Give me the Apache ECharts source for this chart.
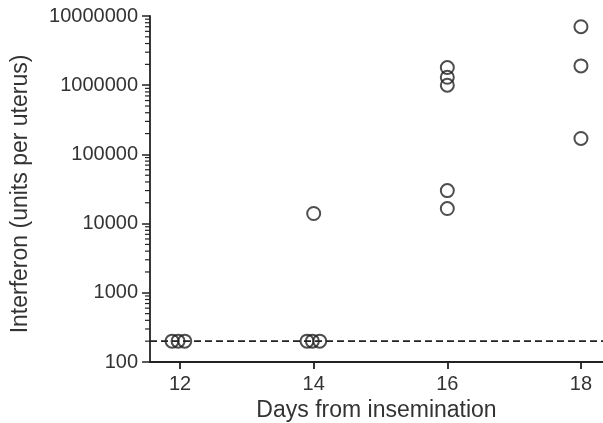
<!DOCTYPE html>
<html><head><meta charset="utf-8">
<script src="https://cdn.jsdelivr.net/npm/echarts@6/dist/echarts.min.js"></script>
<style>html,body{margin:0;padding:0;background:#fff}#c{width:603px;height:423px}</style>
</head><body><div id="c"></div>
<script>
// Data
const xTicks = [12, 14, 16, 18];
const yTicks = [100, 1000, 10000, 100000, 1000000, 10000000];
const day12 = [[11.88, 200], [11.97, 200], [12.07, 200]];
const day14 = [[13.90, 200], [13.98, 200], [14.09, 200], [14.0, 14000]];
const day16 = [[16, 1800000], [16, 1300000], [16, 1000000], [16, 30000], [16, 16500]];
const day18 = [[18, 7000000], [18, 1900000], [18, 170000]];
const detectionLimit = 200;
const xMin = 11.55, xMax = 18.33;
const minorTickValues = [];
for (let e = 2; e < 7; e++) for (let m = 2; m <= 9; m++) minorTickValues.push(m * Math.pow(10, e));

const font = 'Liberation Sans, Arial, sans-serif';
const ink = '#222';
const points = day12.concat(day14, day16, day18);

const chart = echarts.init(document.getElementById('c'));
chart.setOption({
  backgroundColor: '#fff',
  animation: false,
  grid: { left: 150, right: 0, top: 16, bottom: 61, containLabel: false, outerBoundsMode: 'none' },
  xAxis: {
    type: 'value', min: xMin, max: xMax,
    name: 'Days from insemination', nameLocation: 'middle', nameGap: 37,
    nameTextStyle: { fontFamily: font, fontSize: 23, color: '#333' },
    axisLine: { onZero: false, lineStyle: { color: ink, width: 1.8 } },
    axisTick: { show: true, length: 7, lineStyle: { color: ink, width: 1.8 }, customValues: xTicks },
    axisLabel: { fontFamily: font, fontSize: 20, color: '#333', margin: 12, customValues: xTicks },
    splitLine: { show: false }
  },
  yAxis: {
    type: 'log', logBase: 10, min: 100, max: 10000000,
    name: 'Interferon (units per uterus)', nameLocation: 'middle', nameGap: 118,
    nameTextStyle: { fontFamily: font, fontSize: 23, color: '#333', padding: [0, 10, 0, 0] },
    axisLine: { show: true, lineStyle: { color: ink, width: 1.8 } },
    axisTick: { show: true, length: 8, lineStyle: { color: ink, width: 1.5 }, customValues: yTicks },
    axisLabel: { fontFamily: font, fontSize: 20, color: '#333', margin: 12, customValues: yTicks,
      formatter: v => String(Math.round(v)) },
    splitLine: { show: false }
  },
  series: [
    {
      type: 'custom', silent: true, clip: false, z: 1,
      data: minorTickValues.map(v => [xMin, v]),
      renderItem: (params, api) => {
        const p = api.coord([api.value(0), api.value(1)]);
        return { type: 'line', shape: { x1: p[0] - 5, y1: p[1], x2: p[0], y2: p[1] },
          style: { stroke: ink, lineWidth: 1.2 } };
      }
    },
    {
      type: 'line', silent: true, symbol: 'none',
      data: [[xMin, detectionLimit], [xMax, detectionLimit]],
      lineStyle: { color: ink, width: 1.6, type: [7, 4] }
    },
    {
      type: 'scatter', data: points, symbol: 'circle', symbolSize: 13,
      itemStyle: { color: 'rgba(0,0,0,0)', borderColor: ink, borderWidth: 2 }, z: 5
    }
  ]
});
</script></body></html>
